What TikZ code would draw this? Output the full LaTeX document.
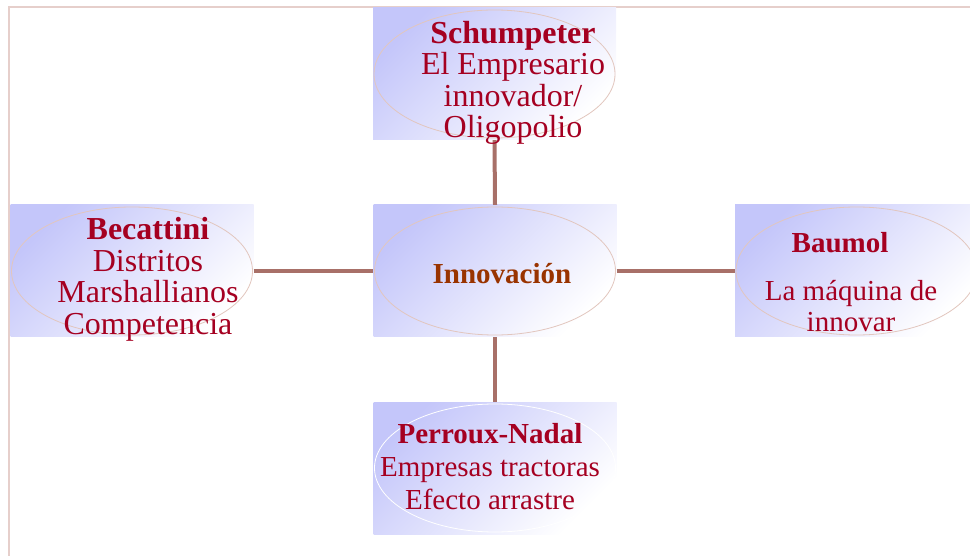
\documentclass[tikz,border=0pt]{standalone}
\usepackage{fontspec}
\setmainfont{Liberation Serif}
\usetikzlibrary{shapes.geometric}
\definecolor{txtclr}{HTML}{A50021}
\definecolor{innoclr}{HTML}{993300}
\definecolor{connclr}{HTML}{A87068}
\definecolor{ellclr}{HTML}{E2C6BE}
\definecolor{lavclr}{HTML}{C4C6FA}
\definecolor{frameclr}{HTML}{E6CFCB}
\begin{document}
\begin{tikzpicture}[x=1pt,y=-1pt,
 box/.style={rectangle, inner sep=0, minimum width=243pt, minimum height=132pt, top color=lavclr, bottom color=white, shading angle=45},
 oval/.style={ellipse, draw=ellclr, line width=0.8pt, inner sep=0, minimum width=241pt, minimum height=128pt},
 connline/.style={draw=connclr, line width=4pt},
 lbl/.style={text=txtclr, align=center, inner sep=0}]
\useasboundingbox (0,0) rectangle (970,556);
\draw[frameclr, line width=1.5pt] (9,556) -- (9,7) -- (970,7);
% boxes
\node[box] (schumbox) at (494.5,74) {};
\node[box] (becatbox) at (132,271) {};
\node[box] (innobox) at (495,271) {};
\node[box] (baumbox) at (856.5,271) {};
\node[box] (perrbox) at (495,468) {};
% ovals
\node[oval] (schumoval) at (494.5,74) {};
\node[oval] (becatoval) at (132,271) {};
\node[oval] (innooval) at (495,271) {};
\node[oval] (baumoval) at (856.5,271) {};
\node[oval, draw=white] (perroval) at (495,468) {};
% connectors
\draw[connline] (schumbox.south) -- (innobox.north);
\draw[connline] (innobox.south) -- (perrbox.north);
\draw[connline] (becatbox.east) -- (innobox.west);
\draw[connline] (innobox.east) -- (baumbox.west);
% texts
\node[lbl, anchor=north, font={\fontsize{32}{31.3}\selectfont}] (schumtxt) at (513,21)
 {\textbf{Schumpeter}\\El Empresario\\innovador/\\Oligopolio};
\node[lbl, anchor=north, font={\fontsize{32}{31.7}\selectfont}] (becattxt) at (148,217)
 {\textbf{Becattini}\\Distritos\\Marshallianos\\Competencia};
\node[lbl, anchor=base, text=innoclr, font={\fontsize{29}{31}\selectfont\bfseries}] (innotxt) at (502,284)
 {Innovación};
\node[lbl, anchor=north, font={\fontsize{29}{31}\selectfont}] (baumtxt) at (851,232)
 {\textbf{Baumol}\hspace*{22pt}\\[17pt]La máquina de\\innovar};
\node[lbl, anchor=north, font={\fontsize{29}{33}\selectfont}] (perrtxt) at (490,423)
 {\textbf{Perroux-Nadal}\\Empresas tractoras\\Efecto arrastre};
\end{tikzpicture}
\end{document}
